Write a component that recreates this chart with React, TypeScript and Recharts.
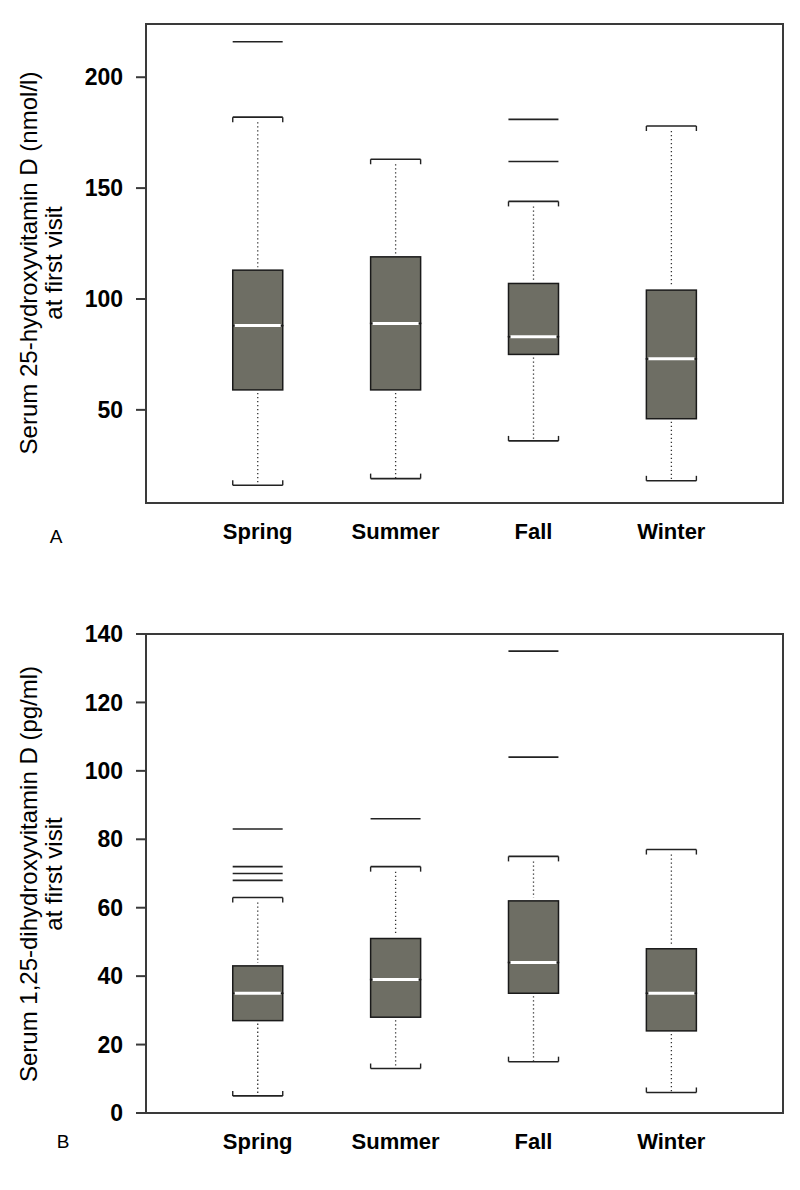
import React from "react";
import {
  ComposedChart, Bar, Scatter, XAxis, YAxis, ReferenceArea,
} from "recharts";

const SEASONS = ["Spring", "Summer", "Fall", "Winter"];
const POSITIONS = [1, 2, 3, 4];

// Panel A: serum 25-hydroxyvitamin D (nmol/l)
const A_LOW = [16, 19, 36, 18];
const A_Q1 = [59, 59, 75, 46];
const A_MED = [88, 89, 83, 73];
const A_Q3 = [113, 119, 107, 104];
const A_HIGH = [182, 163, 144, 178];
const A_OUTLIERS = [[216], [], [181, 162], []];
const A_TICKS = [50, 100, 150, 200];
const A_DOMAIN = [8, 224];

// Panel B: serum 1,25-dihydroxyvitamin D (pg/ml)
const B_LOW = [5, 13, 15, 6];
const B_Q1 = [27, 28, 35, 24];
const B_MED = [35, 39, 44, 35];
const B_Q3 = [43, 51, 62, 48];
const B_HIGH = [63, 72, 75, 77];
const B_OUTLIERS = [[83, 72, 70, 68], [86], [135, 104], []];
const B_TICKS = [0, 20, 40, 60, 80, 100, 120, 140];
const B_DOMAIN = [0, 140];

const X_DOMAIN = [0.19, 4.81];
const BOX_PX = 50;
const BOX_FILL = "#6e6e64";
const FONT = "'Liberation Sans', Arial, sans-serif";
const FRAME = "#3a3a3a";
const DOTS = "#333";

function buildRows(low, q1, med, q3, high) {
  return POSITIONS.map((pos, i) => ({
    pos,
    base: low[i],
    lowW: q1[i] - low[i],
    lowBox: med[i] - q1[i],
    upBox: q3[i] - med[i],
    upW: high[i] - q3[i],
  }));
}

function buildOutliers(outliers) {
  return outliers.flatMap((vals, i) => vals.map((value) => ({ pos: POSITIONS[i], value })));
}

const Hidden = () => <g />;

const LowerWhisker = (p) => {
  const cx = p.x + p.width / 2;
  const yb = p.y + p.height;
  return (
    <g>
      <line x1={cx} x2={cx} y1={p.y + 3} y2={yb} stroke={DOTS} strokeWidth={1.3} strokeDasharray="1.3 2.7" />
      <line x1={p.x} x2={p.x + p.width} y1={yb} y2={yb} stroke="#222" strokeWidth={1.6} />
      <line x1={p.x} x2={p.x} y1={yb} y2={yb - 5} stroke="#222" strokeWidth={1.4} />
      <line x1={p.x + p.width} x2={p.x + p.width} y1={yb} y2={yb - 5} stroke="#222" strokeWidth={1.4} />
    </g>
  );
};

const UpperWhisker = (p) => {
  const cx = p.x + p.width / 2;
  return (
    <g>
      <line x1={cx} x2={cx} y1={p.y + 5} y2={p.y + p.height - 3} stroke={DOTS} strokeWidth={1.3} strokeDasharray="1.3 2.7" />
      <line x1={p.x} x2={p.x + p.width} y1={p.y} y2={p.y} stroke="#222" strokeWidth={1.6} />
      <line x1={p.x} x2={p.x} y1={p.y} y2={p.y + 5} stroke="#222" strokeWidth={1.4} />
      <line x1={p.x + p.width} x2={p.x + p.width} y1={p.y} y2={p.y + 5} stroke="#222" strokeWidth={1.4} />
    </g>
  );
};

const BoxLower = (p) => (
  <rect x={p.x} y={p.y} width={p.width} height={p.height} fill={BOX_FILL} stroke="#1a1a1a" strokeWidth={1.5} />
);

const BoxUpper = (p) => (
  <g>
    <rect x={p.x} y={p.y} width={p.width} height={p.height} fill={BOX_FILL} stroke="#1a1a1a" strokeWidth={1.5} />
    <line x1={p.x + 2} x2={p.x + p.width - 2} y1={p.y + p.height} y2={p.y + p.height} stroke="#fff" strokeWidth={3} />
  </g>
);

const Outlier = (p) => (
  <line x1={p.cx - BOX_PX / 2} x2={p.cx + BOX_PX / 2} y1={p.cy} y2={p.cy} stroke="#222" strokeWidth={1.6} />
);

function BoxPanel({ rows, outliers, domain, ticks, height, margin }) {
  return (
    <ComposedChart width={800} height={height} data={rows} margin={margin}>
      <XAxis
        type="number"
        dataKey="pos"
        domain={X_DOMAIN}
        ticks={POSITIONS}
        allowDataOverflow
        interval={0}
        tickFormatter={(v) => SEASONS[v - 1]}
        height={30}
        tickLine={false}
        tickMargin={14}
        axisLine={{ stroke: FRAME, strokeWidth: 2 }}
        tick={{ fill: "#000", fontSize: 22, fontWeight: "bold", fontFamily: FONT }}
      />
      <YAxis
        type="number"
        domain={domain}
        ticks={ticks}
        allowDataOverflow
        interval={0}
        width={146}
        tickSize={10}
        tickMargin={13}
        tickLine={{ stroke: FRAME, strokeWidth: 2 }}
        axisLine={{ stroke: FRAME, strokeWidth: 2 }}
        tick={{ fill: "#000", fontSize: 23, fontWeight: "bold", fontFamily: FONT }}
      />
      <ReferenceArea
        x1={X_DOMAIN[0]} x2={X_DOMAIN[1]} y1={domain[0]} y2={domain[1]}
        fill="none" stroke={FRAME} strokeWidth={2} ifOverflow="visible"
      />
      <Bar dataKey="base" stackId="box" barSize={BOX_PX} shape={Hidden} isAnimationActive={false} />
      <Bar dataKey="lowW" stackId="box" barSize={BOX_PX} shape={LowerWhisker} isAnimationActive={false} />
      <Bar dataKey="lowBox" stackId="box" barSize={BOX_PX} shape={BoxLower} isAnimationActive={false} />
      <Bar dataKey="upBox" stackId="box" barSize={BOX_PX} shape={BoxUpper} isAnimationActive={false} />
      <Bar dataKey="upW" stackId="box" barSize={BOX_PX} shape={UpperWhisker} isAnimationActive={false} />
      <Scatter data={outliers} dataKey="value" shape={Outlier} isAnimationActive={false} />
    </ComposedChart>
  );
}

export default function App() {
  const rowsA = buildRows(A_LOW, A_Q1, A_MED, A_Q3, A_HIGH);
  const rowsB = buildRows(B_LOW, B_Q1, B_MED, B_Q3, B_HIGH);
  return (
    <div style={{ position: "absolute", left: 0, top: 0, width: 800, height: 1190, background: "#fff", fontFamily: FONT }}>
      <div style={{ position: "absolute", left: 0, top: 0 }}>
        <BoxPanel
          rows={rowsA}
          outliers={buildOutliers(A_OUTLIERS)}
          domain={A_DOMAIN}
          ticks={A_TICKS}
          height={560}
          margin={{ top: 24, right: 17, bottom: 27, left: 0 }}
        />
      </div>
      <div style={{ position: "absolute", left: 0, top: 600 }}>
        <BoxPanel
          rows={rowsB}
          outliers={buildOutliers(B_OUTLIERS)}
          domain={B_DOMAIN}
          ticks={B_TICKS}
          height={590}
          margin={{ top: 34, right: 17, bottom: 47, left: 0 }}
        />
      </div>
      <svg width={800} height={1190} style={{ position: "absolute", left: 0, top: 0, pointerEvents: "none" }}>
        <g fontFamily={FONT} fontSize={24} fill="#000" textAnchor="middle">
          <text x={37} y={263} transform="rotate(-90 37 263)">Serum 25-hydroxyvitamin D (nmol/l)</text>
          <text x={62} y={263} transform="rotate(-90 62 263)">at first visit</text>
          <text x={37} y={874} transform="rotate(-90 37 874)">Serum 1,25-dihydroxyvitamin D (pg/ml)</text>
          <text x={62} y={874} transform="rotate(-90 62 874)">at first visit</text>
        </g>
        <text x={56} y={543} fontFamily={FONT} fontSize={19} textAnchor="middle">A</text>
        <text x={63} y={1148} fontFamily={FONT} fontSize={19} textAnchor="middle">B</text>
      </svg>
    </div>
  );
}
